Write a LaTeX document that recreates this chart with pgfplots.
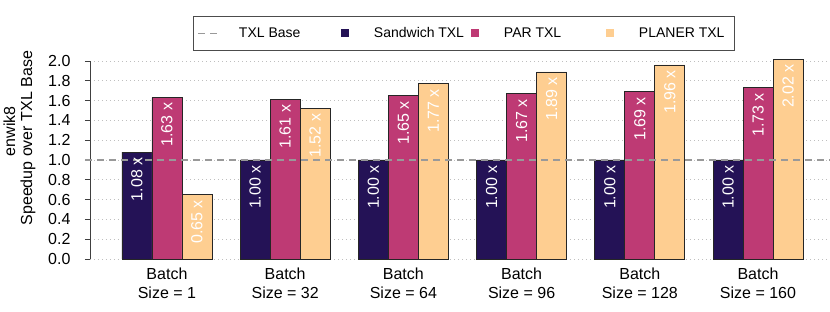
\documentclass[border=0pt]{standalone}
\usepackage{pgfplots}
\pgfplotsset{compat=1.18}
\usepackage{fontspec}
\setmainfont{Liberation Sans}
\definecolor{cdark}{HTML}{241256}
\definecolor{cmag}{HTML}{BE3A74}
\definecolor{corange}{HTML}{FECE91}
\definecolor{cbase}{HTML}{999999}
\pgfplotstableread{
x sandwich par planer
0 1.08 1.63 0.65
1 1.00 1.61 1.52
2 1.00 1.65 1.77
3 1.00 1.67 1.89
4 1.00 1.69 1.96
5 1.00 1.73 2.02
}\datatable
\pgfplotsset{
  barlabel/.style={
    nodes near coords={\pgfmathprintnumber[fixed,fixed zerofill,precision=2,assume math mode=true]{\pgfplotspointmeta} x},
    nodes near coords style={rotate=90, anchor=east, font=\fontsize{16}{19}\selectfont, text=white, inner xsep=5pt},
  },
  squareimg/.style={legend image code/.code={\path[draw=none, fill=none] (0pt,-4pt) rectangle (22pt,4pt); \path[draw=none, fill=#1] (7pt,-4pt) rectangle (15pt,4pt);}},
  dashimg/.style={legend image code/.code={\draw[cbase, line width=1.5pt, dash pattern=on 7pt off 5pt] (0pt,0pt) -- (22pt,0pt);}},
}
\begin{document}
\begin{tikzpicture}
\useasboundingbox (-90pt,-53pt) rectangle (740pt,259pt);
\begin{axis}[
  at={(0pt,0pt)}, anchor=south west, scale only axis,
  width=740pt, height=198pt,
  ymin=0, ymax=2, xmin=-0.651, xmax=5.609,
  ybar=0pt, bar width=30pt,
  clip=false,
  axis x line*=bottom, x axis line style={draw=none},
  axis y line*=left, y axis line style={-, draw=black!75, line width=0.8pt},
  tick align=outside, major tick length=5pt,
  xtick={0,1,2,3,4,5}, xtick style={draw=none},
  xticklabels={{Batch\\Size = 1},{Batch\\Size = 32},{Batch\\Size = 64},{Batch\\Size = 96},{Batch\\Size = 128},{Batch\\Size = 160}},
  xticklabel style={align=center, font=\fontsize{16}{19}\selectfont},
  ytick={0,0.2,0.4,0.6,0.8,1.0,1.2,1.4,1.6,1.8,2.0},
  ytick style={draw=black!75, line width=0.8pt},
  yticklabel style={xshift=-11pt, font=\fontsize{16}{19}\selectfont, /pgf/number format/.cd, fixed, fixed zerofill, precision=1, assume math mode=true},
  ymajorgrids, major grid style={draw=black!25, line width=0.8pt, dash pattern=on 1pt off 3pt},
  ylabel={\hspace*{14pt}enwik8\\Speedup over TXL Base},
  ylabel style={at={(ticklabel cs:0.61)}, align=center, font=\fontsize{16}{17}\selectfont, yshift=6pt},
  legend columns=4,
  legend style={at={(0.505,1.05)}, anchor=south, draw=black!70, line width=0.8pt, inner xsep=4pt, inner ysep=9.5pt,
    font=\fontsize{14}{17}\selectfont,
    /tikz/every odd column/.append style={column sep=18pt},
    nodes={inner xsep=0pt}},
]
\addlegendimage{dashimg}
\addlegendentry{\hbox to 95pt{TXL Base\hfil}}
\addlegendimage{squareimg=cdark}
\addlegendentry{\hbox to 90pt{Sandwich TXL\hfil}}
\addlegendimage{squareimg=cmag}
\addlegendentry{\hbox to 95pt{PAR TXL\hfil}}
\addlegendimage{squareimg=corange}
\addlegendentry{\hbox to 91pt{PLANER TXL\hfil}}
\addplot[fill=cdark, draw=black!85, line width=0.7pt, barlabel] table[x=x, y=sandwich] {\datatable};
\addplot[fill=cmag, draw=black!85, line width=0.7pt, barlabel] table[x=x, y=par] {\datatable};
\addplot[fill=corange, draw=black!85, line width=0.7pt, barlabel] table[x=x, y=planer] {\datatable};
\addplot[sharp plot, cbase, line width=1.5pt, dash pattern=on 7pt off 5pt, forget plot] coordinates {(-0.693,1) (5.609,1)};
\end{axis}
\end{tikzpicture}
\end{document}
